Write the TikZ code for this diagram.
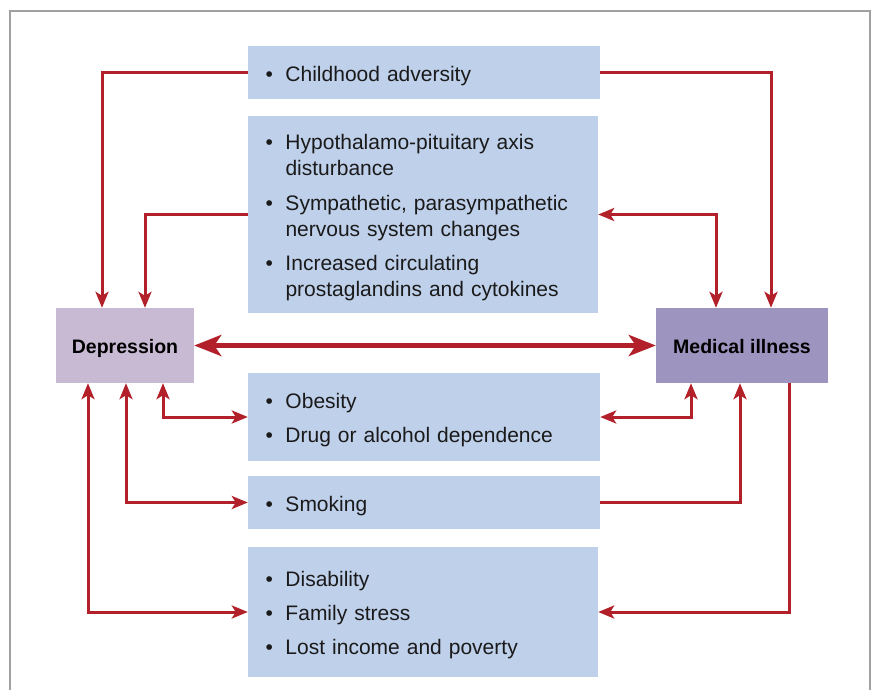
\documentclass[tikz,border=0pt]{standalone}
\usepackage{fontspec}
\setmainfont{Liberation Sans}
\usetikzlibrary{arrows.meta}
\definecolor{figblue}{HTML}{BFD0EA}
\definecolor{figlilac}{HTML}{C8BAD2}
\definecolor{figpurple}{HTML}{9E94C0}
\definecolor{figred}{HTML}{B2202A}
\definecolor{figgray}{HTML}{A0A0A0}
\definecolor{figink}{HTML}{1A1A1A}
\newcommand{\fbul}{\makebox[20pt][l]{\textbullet}}
\newcommand{\fcont}{\hspace*{20pt}}
\newcommand{\ftop}{\rule{0pt}{21.5pt}}
\tikzset{
  factorBox/.style={fill=figblue, inner xsep=17.5pt, inner ysep=0pt, align=left, text=figink, font=\fontsize{21}{26}\selectfont, execute at begin node=\ftop},
  stateBox/.style={inner sep=0pt, align=center, text=black, text height=16pt, text depth=0pt, font=\bfseries\fontsize{19.5}{23}\selectfont},
  linkArrow/.style={-{Stealth[length=16pt, width=13pt, inset=4pt]}, line width=3pt, draw=figred},
  bothArrow/.style={{Stealth[length=16pt, width=13pt, inset=4pt]}-{Stealth[length=16pt, width=13pt, inset=4pt]}, line width=3pt, draw=figred},
  mainArrow/.style={{Stealth[length=27pt, width=21pt, inset=7pt]}-{Stealth[length=27pt, width=21pt, inset=7pt]}, line width=5pt, draw=figred},
  frameLine/.style={draw=figgray, line width=1.6pt}
}
\begin{document}
\begin{tikzpicture}[x=1pt, y=-1pt]
  \useasboundingbox (0,0) rectangle (872,690);
  \draw[frameLine] (10,700) -- (10,11) -- (870,11) -- (870,700);

  % outer states
  \node[stateBox, fill=figlilac, minimum width=138pt, minimum height=75pt] (depression) at (125,345.5) {Depression};
  \node[stateBox, fill=figpurple, minimum width=172pt, minimum height=75pt] (medical) at (742,345.5) {Medical illness};

  % shared factors
  \node[factorBox, text width=317pt, minimum height=53pt] (childhood) at (424,72.5) {\fbul Childhood adversity};
  \node[factorBox, text width=315pt, minimum height=197pt] (hpa) at (423,214.5)
    {\fbul Hypothalamo-pituitary axis\\ \fcont disturbance\\[9pt]
     \fbul Sympathetic, parasympathetic\\ \fcont nervous system changes\\[8pt]
     \fbul Increased circulating\\ \fcont prostaglandins and cytokines};
  \node[factorBox, text width=317pt, minimum height=88pt] (obesity) at (424,417)
    {\fbul Obesity\\[8pt] \fbul Drug or alcohol dependence};
  \node[factorBox, text width=317pt, minimum height=53pt] (smoking) at (424,502.5) {\fbul Smoking};
  \node[factorBox, text width=315pt, minimum height=130pt] (disability) at (423,612)
    {\fbul Disability\\[8pt] \fbul Family stress\\[8pt] \fbul Lost income and poverty};

  \draw[mainArrow] (depression.east) -- (medical.west);

  \draw[linkArrow] (childhood.west) -| ([xshift=-23pt]depression.north);
  \draw[linkArrow] (childhood.east) -| ([xshift=29pt]medical.north);
  \draw[linkArrow] (hpa.west) -| ([xshift=20pt]depression.north);
  \draw[bothArrow] (hpa.east) -| ([xshift=-26pt]medical.north);

  \draw[bothArrow] ([xshift=38pt]depression.south) |- (obesity.west);
  \draw[bothArrow] ([xshift=-51pt]medical.south) |- (obesity.east);
  \draw[bothArrow] ([xshift=1pt]depression.south) |- (smoking.west);
  \draw[linkArrow] (smoking.east) -| ([xshift=-2pt]medical.south);
  \draw[bothArrow] ([xshift=-37pt]depression.south) |- (disability.west);
  \draw[linkArrow] ([xshift=47pt]medical.south) |- (disability.east);
\end{tikzpicture}
\end{document}
